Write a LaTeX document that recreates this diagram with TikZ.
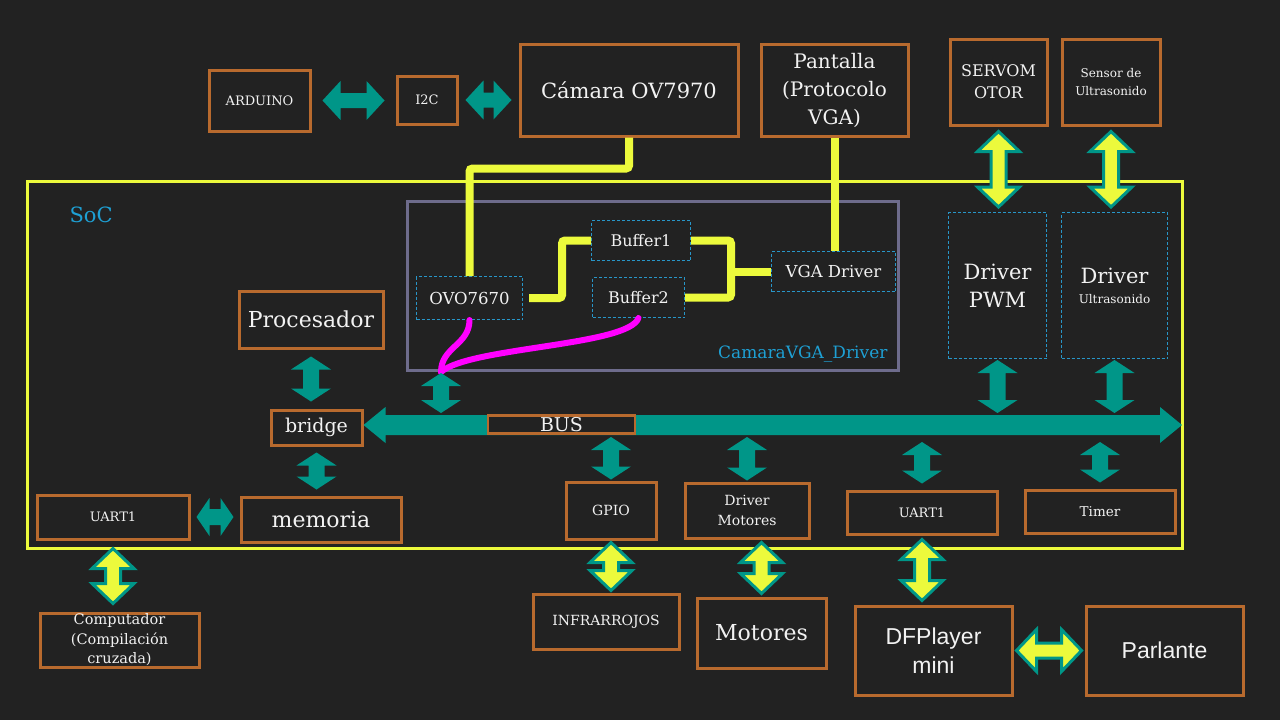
\documentclass[tikz,border=0pt]{standalone}
\usepackage{fontspec}
\setmainfont{DejaVu Serif}
\newfontfamily\arialfont{Liberation Sans}
\usetikzlibrary{calc}
\definecolor{bgc}{RGB}{34,34,34}
\definecolor{boxorange}{RGB}{184,106,46}
\definecolor{tealc}{RGB}{0,150,136}
\definecolor{yel}{RGB}{236,250,60}
\definecolor{dashblue}{RGB}{40,150,200}
\definecolor{lblblue}{RGB}{30,160,212}
\definecolor{framegray}{RGB}{110,108,140}
\definecolor{magc}{RGB}{255,0,255}
\definecolor{txtc}{RGB}{242,242,242}
\newcommand{\fsz}[2]{\fontsize{#1}{#2}\selectfont}
\tikzset{
  blockarrow/.style n args={4}{to path={
    (\tikztostart) coordinate (bas) (\tikztotarget) coordinate (bat)
    ($(bas)!#4!(bat)$)
    -- ($(bas)!#4!(bat)!#1!(bat)!#2!90:(bat)$)
    -- ($(bas)!#4!(bat)!#1!(bat)!#3!90:(bat)$)
    -- ($(bat)!#4!(bas)!#1!(bas)!#3!-90:(bas)$)
    -- ($(bat)!#4!(bas)!#1!(bas)!#2!-90:(bas)$)
    -- ($(bat)!#4!(bas)$)
    -- ($(bat)!#4!(bas)!#1!(bas)!#2!90:(bas)$)
    -- ($(bat)!#4!(bas)!#1!(bas)!#3!90:(bas)$)
    -- ($(bas)!#4!(bat)!#1!(bat)!#3!-90:(bat)$)
    -- ($(bas)!#4!(bat)!#1!(bat)!#2!-90:(bat)$)
    -- cycle}},
  blk/.style={draw=boxorange, line width=3pt, text=txtc, align=center, inner sep=0pt},
  dbox/.style={draw=dashblue, line width=1pt, dash pattern=on 3pt off 2pt, text=txtc, align=center, inner sep=0pt},
  tarr/.style={fill=tealc, blockarrow={13pt}{20pt}{8pt}{#1}},
  tarr/.default=4pt,
  harr/.style={fill=tealc, blockarrow={18pt}{19.5pt}{7.5pt}{#1}},
  yarr/.style={fill=yel, draw=tealc, line width=3pt, line join=miter, blockarrow={20pt}{21pt}{7.5pt}{#1}},
  ywire/.style={draw=yel, line width=8pt, rounded corners=3pt},
  magwire/.style={draw=magc, line width=6pt, line cap=round}
}
\begin{document}
\begin{tikzpicture}[x=1pt,y=-1pt]
  \useasboundingbox (0,0) rectangle (1280,720);
  \fill[bgc] (0,0) rectangle (1280,720);
  % frames
  \node[draw=yel, line width=3pt, minimum width=1155pt, minimum height=367pt] (soc) at (604.5,364.5) {};
  \node[draw=framegray, line width=3pt, minimum width=491pt, minimum height=169pt] (camvga) at (652.5,285.5) {};
  \node[font=\fsz{21}{24}, text=lblblue, anchor=base west] (soclbl) at (66,222) {SoC};
  \node[font=\fsz{17}{20}, text=lblblue, anchor=base east] (camlbl) at (891,358) {CamaraVGA\_Driver};
  % outside
  \node[blk, minimum width=101pt, minimum height=61pt, font=\fsz{13}{16}] (ardu) at (259.5,100.5) {ARDUINO};
  \node[blk, minimum width=60pt, minimum height=48pt, font=\fsz{13}{16}] (i2c) at (427,100) {I2C};
  \node[blk, minimum width=218pt, minimum height=92pt, font=\fsz{21}{25}] (cam) at (629,90) {Cámara OV7970};
  \node[blk, minimum width=147pt, minimum height=92pt, font=\fsz{20}{28}] (pant) at (834.5,90) {Pantalla\\(Protocolo\\VGA)};
  \node[blk, minimum width=97pt, minimum height=86pt, font=\fsz{16}{22}] (servo) at (998.5,82) {SERVOM\\OTOR};
  \node[blk, minimum width=98pt, minimum height=86pt, font=\fsz{12}{18}] (sensor) at (1111,82) {Sensor de\\Ultrasonido};
  % camara driver
  \node[dbox, minimum width=106pt, minimum height=43pt, font=\fsz{16.5}{20}] (ovo) at (469.5,298) {OVO7670};
  \node[dbox, minimum width=99pt, minimum height=40pt, font=\fsz{16}{20}] (buf1) at (641,240.5) {Buffer1};
  \node[dbox, minimum width=92pt, minimum height=40pt, font=\fsz{16}{20}] (buf2) at (638.5,297.5) {Buffer2};
  \node[dbox, minimum width=124pt, minimum height=40pt, font=\fsz{16.5}{20}] (vga) at (833.5,271.5) {VGA Driver};
  \node[dbox, minimum width=98pt, minimum height=146pt, font=\fsz{21}{28}] (pwm) at (997.5,285.5) {Driver\\PWM};
  \node[dbox, minimum width=106pt, minimum height=146pt, font=\fsz{21}{20}] (ultra) at (1114.5,285.5) {Driver\\{\fsz{12}{14}Ultrasonido}};
  % soc
  \node[blk, minimum width=144pt, minimum height=57pt, font=\fsz{22}{26}] (proc) at (311,319.5) {Procesador};
  \node[blk, minimum width=91pt, minimum height=35pt, font=\fsz{19}{22}] (bridge) at (316.5,427.5) {bridge};
  \node[blk, minimum width=160pt, minimum height=45pt, font=\fsz{22}{26}] (memoria) at (321,519.5) {memoria};
  \node[blk, minimum width=152pt, minimum height=44pt, font=\fsz{13}{16}] (uartl) at (113,517) {UART1};
  \node[blk, minimum width=90pt, minimum height=57pt, font=\fsz{14}{18}] (gpio) at (611,510.5) {GPIO};
  \node[blk, minimum width=124pt, minimum height=55pt, font=\fsz{14}{20}] (drvmot) at (747,510.5) {Driver\\Motores};
  \node[blk, minimum width=150pt, minimum height=43pt, font=\fsz{13}{16}] (uartr) at (922,512.5) {UART1};
  \node[blk, minimum width=150pt, minimum height=43pt, font=\fsz{13.5}{16}] (timer) at (1100,511.5) {Timer};
  % bottom
  \node[blk, minimum width=159pt, minimum height=54pt, font=\fsz{14.5}{19.5}] (pc) at (119.5,640) {Computador\\(Compilación\\cruzada)};
  \node[blk, minimum width=146pt, minimum height=55pt, font=\fsz{14}{18}] (infra) at (606,621.5) {INFRARROJOS};
  \node[blk, minimum width=129pt, minimum height=70pt, font=\fsz{22}{26}] (motores) at (761.5,633) {Motores};
  \node[blk, minimum width=157pt, minimum height=89pt, font=\arialfont\fsz{23}{29}] (dfp) at (933.5,650.5) {DFPlayer\\mini};
  \node[blk, minimum width=157pt, minimum height=89pt, font=\arialfont\fsz{23}{29}] (parl) at (1164.5,650.5) {Parlante};
  % wires
  \draw[ywire] (cam.south) -- ++(0,31) -| (ovo.north);
  \draw[ywire] (pant.south) -- (pant.south |- vga.north);
  \draw[ywire] ([xshift=6pt]ovo.east) -- ++(33,0) |- (buf1.west);
  \draw[ywire] (buf1.east) -- ++(40,0) |- (buf2.east);
  \draw[ywire] (vga.west) -- ++(-40,0);
  \coordinate (camjoin) at (441,372);
  \draw[magwire] (ovo.south) .. controls +(0,25) and +(0,-25) .. (camjoin);
  \draw[magwire] (buf2.south) .. controls +(-10,28) and +(28,-25) .. (camjoin);
  % bus
  \coordinate (busend) at (1182,425);
  \coordinate (bustop) at (0,414);
  \coordinate (busbot) at (0,436);
  \path[fill=tealc, blockarrow={22pt}{18pt}{10pt}{0pt}] (bridge.east |- busend) to (busend);
  \node[blk, line width=2.5pt, fill=bgc, minimum width=147pt, minimum height=18pt, font=\fsz{19}{22}] (buslbl) at (561.5,424.5) {BUS};
  % teal arrows
  \path[harr=11pt] (ardu.east) to (ardu.east -| i2c.west);
  \path[harr=7pt] (i2c.east) to (i2c.east -| cam.west);
  \path[fill=tealc, blockarrow={13pt}{19pt}{8pt}{6pt}] (uartl.east) to (uartl.east -| memoria.west);
  \path[tarr=7pt] (proc.south) to (proc.south |- bridge.north);
  \path[tarr=6pt] (bridge.south) to (bridge.south |- memoria.north);
  \path[tarr=1pt] (camjoin) to (camjoin |- bustop);
  \foreach \n/\g in {pwm/1pt,ultra/1pt}
    \path[tarr=\g] (\n.south) to (\n.south |- bustop);
  \foreach \n/\g in {gpio/1pt,drvmot/1pt,uartr/6pt,timer/6pt}
    \path[tarr=\g] (busbot -| \n.north) to (\n.north);
  % yellow arrows
  \foreach \a/\b/\g in {servo/pwm/5pt,sensor/ultra/5pt,uartl/pc/8pt,gpio/infra/2pt,uartr/dfp/4pt}
    \path[yarr=\g] (\a.south) to (\a.south |- \b.north);
  \path[yarr=3pt] (motores.north |- drvmot.south) to (motores.north);
  \path[yarr=3pt] (dfp.east) to (parl.west);
\end{tikzpicture}
\end{document}
